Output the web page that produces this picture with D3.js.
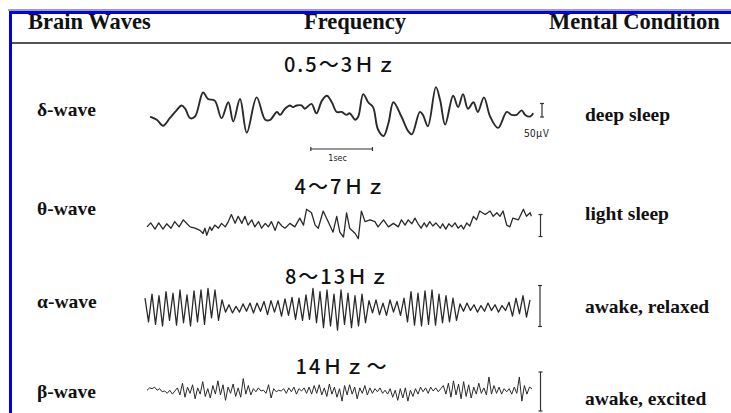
<!DOCTYPE html>
<html><head><meta charset="utf-8">
<script src="https://cdn.jsdelivr.net/npm/d3@7"></script>
<style>body{margin:0;background:#fff}svg{display:block}</style>
</head><body>
<svg id="c" width="731" height="413"></svg>
<script>
// ---------- data ----------
const headers = ["Brain Waves", "Frequency", "Mental Condition"];
const waveNames = ["δ-wave", "θ-wave", "α-wave", "β-wave"];
const frequencies = ["0.5～3Ｈｚ", "4～7Ｈｚ", "8～13Ｈｚ", "14Ｈｚ～"];
const conditions = ["deep sleep", "light sleep", "awake, relaxed", "awake, excited"];
const calibrationLabel = "50μV";
const timeMarkLabel = "1sec";
const calibrationUV = 50;   // µV
const timeMarkSec = 1;      // s

// δ-wave: time (s) and amplitude (µV)
const deltaTime = [0.05,0.16,0.26,0.37,0.48,0.56,0.62,0.70,0.78,0.91,0.99,1.10,1.21,1.32,1.40,1.51,1.62,1.78,1.92,2.00,2.11,2.16,2.24,2.32,2.37,2.43,2.51,2.56,2.67,2.75,2.84,2.92,3.00,3.08,3.16,3.24,3.29,3.38,3.43,3.51,3.59,3.67,3.75,3.84,3.92,4.00,4.13,4.24,4.30,4.43,4.48,4.56,4.69,4.76,4.84,4.97,5.05,5.13,5.21,5.30,5.37,5.47,5.57,5.70,5.84,5.92,6.00,6.08,6.14,6.22,6.27];
const deltaUV = [-2,-14,-36,-8,21,39,27,-8,-2,87,63,57,-8,51,-20,63,-62,69,-14,-14,15,4,27,39,33,39,39,27,45,10,57,75,51,15,15,4,10,-14,-2,81,51,33,-50,-74,-26,51,-2,-56,-68,15,4,-38,107,57,-32,75,33,81,27,51,15,69,-2,-44,15,4,4,21,4,-2,10];

// θ-wave: time (s) and amplitude (µV)
const thetaTime = [0.00,0.06,0.13,0.19,0.26,0.32,0.39,0.45,0.52,0.59,0.65,0.70,0.78,0.86,0.91,0.94,0.97,1.02,1.05,1.10,1.16,1.21,1.27,1.32,1.37,1.43,1.48,1.54,1.59,1.64,1.70,1.75,1.81,1.86,1.92,1.97,2.02,2.08,2.13,2.19,2.24,2.32,2.40,2.48,2.54,2.59,2.67,2.73,2.78,2.86,2.94,3.02,3.08,3.13,3.19,3.24,3.29,3.38,3.43,3.48,3.54,3.62,3.70,3.75,3.84,3.92,4.00,4.08,4.13,4.19,4.24,4.30,4.35,4.40,4.45,4.50,4.54,4.59,4.64,4.69,4.76,4.80,4.85,4.90,4.95,5.00,5.05,5.10,5.14,5.19,5.24,5.30,5.35,5.40,5.49,5.57,5.62,5.68,5.73,5.78,5.84,5.89,5.94,6.03,6.11,6.16,6.22,6.24];
const thetaUV = [-2,7,-7,7,-7,5,-5,10,-2,14,5,-2,-5,-10,-17,-5,-21,-2,-10,2,-5,6,-2,10,26,6,22,6,22,2,14,-2,10,-5,6,-2,10,-10,10,0,-5,6,-2,18,2,38,30,2,-5,34,10,-14,22,-14,-25,30,-5,-17,-29,34,10,14,10,-2,14,-2,6,-2,14,2,14,5,18,5,-5,7,-2,10,0,7,-5,5,-7,5,-2,7,-5,2,-7,7,0,22,14,34,26,34,22,30,22,34,2,-2,18,14,38,22,30,22];

// α-wave: successive peaks / troughs (µV), evenly spaced in time
const alphaUV = [12,-17,17,-20,15,-22,20,-15,18,-21,22,-18,16,-22,21,-17,22,-20,24,-12,22,-15,10,
  -5,4,-6,2,-5,5,-4,6,
  -6,6,-4,8,-8,9,-5,9,-10,11,-9,13,-14,12,-15,16,-14,
  24,-18,20,-24,22,-22,17,-27,22,-20,18,-24,15,-22,17,-18,
  9,-6,10,-8,6,-9,10,-5,8,-9,
  12,-17,20,-21,18,-22,21,-20,22,-21,17,-18,15,-17,12,-15,
  5,-4,6,-3,4,-5,3,-4,6,-3,4,-5,3,-3,
  7,-10,12,-7,15,-11,10];

// β-wave: successive samples (µV), evenly spaced in time
const betaUV = [1,4,3,5,1,3,-1,0,-3,1,-4,0,
  4,-5,10,-8,5,-3,8,-10,4,-4,12,-7,3,-9,7,-4,13,-5,8,-12,5,-3,9,-7,4,-8,16,-4,7,-5,
  3,-1,4,0,1,-3,8,-9,3,-1,1,0,3,-3,4,-1,5,-4,3,0,4,-3,
  5,-4,7,-3,8,-5,4,-7,9,-4,5,-8,3,-13,7,-5,8,-4,5,-10,4,-3,7,-5,4,-3,
  3,-1,4,-3,1,-4,3,-8,1,-12,3,-9,4,-13,1,-7,3,-4,5,-1,4,-3,5,0,4,-1,3,
  7,-4,10,-8,13,-5,9,-10,12,-7,8,-9,5,-4,10,-3,4,-5,18,-4,7,-3,5,-4,3,-1,
  3,-4,5,-3,18,-13,7,-4,5,3];

// ---------- drawing ----------
const svg = d3.select("#c");
const W = 731, H = 413;
svg.append("rect").attr("width", W).attr("height", H).attr("fill", "#fff");

// frame
svg.append("line").attr("x1", 8).attr("x2", W).attr("y1", 10).attr("y2", 10)
  .attr("stroke", "#444").attr("stroke-width", 1);
svg.append("line").attr("x1", 9).attr("x2", W).attr("y1", 12.5).attr("y2", 12.5)
  .attr("stroke", "#0000ee").attr("stroke-width", 3);
svg.append("line").attr("x1", 10.5).attr("x2", 10.5).attr("y1", 11).attr("y2", H)
  .attr("stroke", "#0000ee").attr("stroke-width", 3);
svg.append("line").attr("x1", 12).attr("x2", W).attr("y1", 43).attr("y2", 43)
  .attr("stroke", "#555").attr("stroke-width", 2);

// header
const headerX = [28, 304, 549];
svg.selectAll("text.hdr").data(headers).join("text").attr("class", "hdr")
  .attr("x", (d, i) => headerX[i]).attr("y", 29)
  .attr("font-family", "Liberation Serif, Times New Roman, serif")
  .attr("font-weight", "bold").attr("font-size", 22.5).attr("fill", "#111")
  .text(d => d);

// rows
const rowY = d3.scaleOrdinal().domain(waveNames).range([116, 226, 308, 391]);
const labelBase = [116, 214.5, 307.5, 398];
const condBase = [121, 219.5, 313, 404.5];
const freqBase = [72, 194, 284, 374];
const freqX = [341, 341, 338, 342];

svg.selectAll("text.wname").data(waveNames).join("text").attr("class", "wname")
  .attr("x", 37).attr("y", (d, i) => labelBase[i])
  .attr("font-family", "Liberation Serif, Times New Roman, serif")
  .attr("font-weight", "bold").attr("font-size", 19.5).attr("fill", "#111")
  .text(d => d);

svg.selectAll("text.cond").data(conditions).join("text").attr("class", "cond")
  .attr("x", 585).attr("y", (d, i) => condBase[i])
  .attr("font-family", "Liberation Serif, Times New Roman, serif")
  .attr("font-weight", "bold").attr("font-size", 19.5).attr("fill", "#111")
  .text(d => d);

svg.selectAll("text.freq").data(frequencies).join("text").attr("class", "freq")
  .attr("x", (d, i) => freqX[i]).attr("y", (d, i) => freqBase[i])
  .attr("text-anchor", "middle")
  .attr("font-family", "Noto Sans CJK JP, Noto Sans, sans-serif")
  .attr("font-size", 20).attr("font-weight", 500).attr("letter-spacing", 2).attr("fill", "#111")
  .text(d => d);

// time scale shared by timed traces (1 s = 61.6 px)
const xTime = d3.scaleLinear().domain([0, 6.25]).range([147, 532]);

const rows = [
  {name: "δ-wave", t: deltaTime, v: deltaUV, cal: 13.5, barBottom: 117, barX: 542, curve: d3.curveCatmullRom.alpha(0.5), sw: 1.9},
  {name: "θ-wave", t: thetaTime, v: thetaUV, cal: 22, barBottom: 236.5, barX: 540.5, curve: d3.curveLinear, sw: 1.3},
  {name: "α-wave", t: null, v: alphaUV, cal: 41, barBottom: 326.5, barX: 540, curve: d3.curveLinear, sw: 1.3, xr: [145, 530]},
  {name: "β-wave", t: null, v: betaUV, cal: 39, barBottom: 411, barX: 540.5, curve: d3.curveLinear, sw: 1.0, xr: [147, 532]}
];

rows.forEach(r => {
  const base = rowY(r.name);
  const y = d3.scaleLinear().domain([0, calibrationUV]).range([base, base - r.cal]);
  let x, pts;
  if (r.t) {
    x = xTime;
    pts = r.t.map((t, i) => [t, r.v[i]]);
  } else {
    x = d3.scaleLinear().domain([0, r.v.length - 1]).range(r.xr);
    pts = r.v.map((v, i) => [i, v]);
  }
  svg.append("path").datum(pts)
    .attr("d", d3.line().x(d => x(d[0])).y(d => y(d[1])).curve(r.curve))
    .attr("fill", "none").attr("stroke", "#2a2a2a").attr("stroke-width", r.sw)
    .attr("stroke-linejoin", "round");
  // calibration bar (50 µV)
  const hBar = y(0) - y(calibrationUV);
  const g = svg.append("g").attr("stroke", "#333").attr("stroke-width", 1.2);
  g.append("line").attr("x1", r.barX).attr("x2", r.barX).attr("y1", r.barBottom).attr("y2", r.barBottom - hBar);
  g.append("line").attr("x1", r.barX - 2).attr("x2", r.barX + 2).attr("y1", r.barBottom).attr("y2", r.barBottom);
  g.append("line").attr("x1", r.barX - 2).attr("x2", r.barX + 2).attr("y1", r.barBottom - hBar).attr("y2", r.barBottom - hBar);
});

// 50 µV label
svg.append("text").attr("x", 524).attr("y", 137)
  .attr("font-family", "Noto Sans CJK JP, sans-serif").attr("font-size", 10).attr("letter-spacing", 0.5).attr("fill", "#222")
  .text(calibrationLabel);

// 1 sec time mark
const tm0 = 2.66;
const tmY = 149;
const tg = svg.append("g").attr("stroke", "#333").attr("stroke-width", 1.2);
tg.append("line").attr("x1", xTime(tm0)).attr("x2", xTime(tm0 + timeMarkSec)).attr("y1", tmY).attr("y2", tmY);
tg.append("line").attr("x1", xTime(tm0)).attr("x2", xTime(tm0)).attr("y1", tmY - 2).attr("y2", tmY + 2);
tg.append("line").attr("x1", xTime(tm0 + timeMarkSec)).attr("x2", xTime(tm0 + timeMarkSec)).attr("y1", tmY - 2).attr("y2", tmY + 2);
svg.append("text").attr("x", xTime(tm0 + timeMarkSec / 2) - 4).attr("y", 161)
  .attr("text-anchor", "middle")
  .attr("font-family", "DejaVu Sans, sans-serif").attr("font-size", 8).attr("fill", "#222")
  .text(timeMarkLabel);
</script>
</body></html>
